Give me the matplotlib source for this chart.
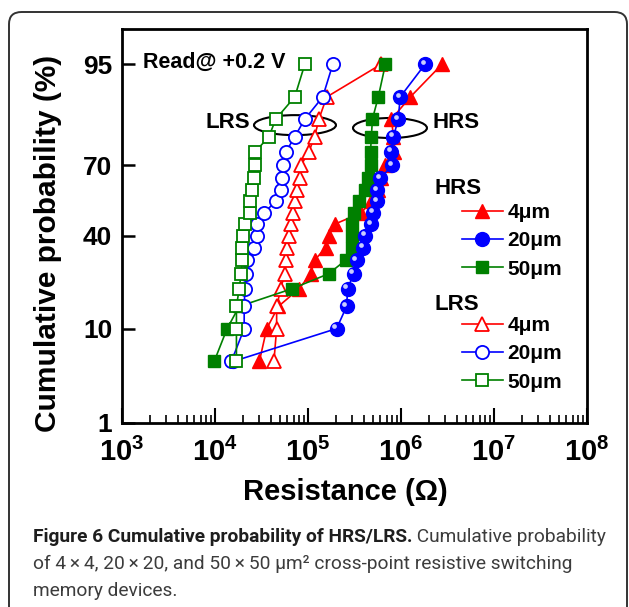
import numpy as np
import matplotlib
matplotlib.use('Agg')
import matplotlib.pyplot as plt
from matplotlib import font_manager
from matplotlib.patches import Ellipse, FancyBboxPatch
from matplotlib.lines import Line2D
from matplotlib.ticker import LogLocator, NullLocator, NullFormatter
from matplotlib.transforms import ScaledTranslation
from statistics import NormalDist

# Data: resistance (ohm) at each cumulative probability (%)
prob = [5, 10, 15, 20, 25, 30, 35, 40, 45, 50, 55, 60, 65, 70, 75, 80, 85, 90, 95]

hrs_4um = [3.0e4, 3.6e4, 4.8e4, 8.0e4, 1.07e5, 1.18e5, 1.55e5, 1.67e5, 1.94e5, 3.76e5,
           4.7e5, 5.7e5, 6.15e5, 6.8e5, 8.5e5, 8.3e5, 7.9e5, 1.26e6, 2.77e6]
hrs_20um = [1.57e4, 2.03e5, 2.6e5, 2.67e5, 3.1e5, 3.33e5, 3.95e5, 4.15e5, 4.8e5, 5.05e5,
            5.57e5, 5.57e5, 6.0e5, 8.1e5, 7.9e5, 8.3e5, 9.35e5, 9.8e5, 1.82e6]
hrs_50um = [9.8e3, 1.35e4, 1.82e4, 6.7e4, 1.67e5, 2.54e5, 2.94e5, 2.94e5, 3.0e5, 3.1e5,
            3.55e5, 4.15e5, 4.47e5, 4.7e5, 4.7e5, 4.8e5, 4.93e5, 5.7e5, 6.8e5]
lrs_4um = [4.3e4, 4.6e4, 4.6e4, 5.1e4, 5.6e4, 5.8e4, 5.95e4, 6.2e4, 6.55e4, 6.9e4,
           7.2e4, 7.6e4, 8.2e4, 8.4e4, 1.02e5, 1.18e5, 1.31e5, 1.59e5, 6.15e5]
lrs_20um = [1.5e4, 2.06e4, 2.06e4, 2.1e4, 2.16e4, 2.2e4, 2.63e4, 2.83e4, 2.83e4, 3.37e4,
            4.5e4, 5.1e4, 5.25e4, 5.4e4, 5.8e4, 7.2e4, 9.25e4, 1.44e5, 1.85e5]
lrs_50um = [1.7e4, 1.7e4, 1.7e4, 1.82e4, 1.91e4, 1.96e4, 1.96e4, 2.0e4, 2.1e4, 2.39e4,
            2.39e4, 2.5e4, 2.63e4, 2.7e4, 2.7e4, 3.8e4, 4.5e4, 7.2e4, 9.25e4]

sizes = ['4\u03bcm', '20\u03bcm', '50\u03bcm']
xticks = [1e3, 1e4, 1e5, 1e6, 1e7, 1e8]
xtick_labels = [r'$\mathbf{10^{%d}}$' % e for e in range(3, 9)]
yticks = [1, 10, 40, 70, 95]
ytick_labels = ['1', '10', '40', '70', '95']

plt.rcParams['font.family'] = 'Liberation Sans'
plt.rcParams['font.weight'] = 'bold'
plt.rcParams['mathtext.fontset'] = 'custom'
plt.rcParams['mathtext.rm'] = 'Liberation Sans:bold'
plt.rcParams['mathtext.bf'] = 'Liberation Sans:bold'

# normal probability scale
_nd = NormalDist()
_ppf = np.vectorize(_nd.inv_cdf, otypes=[float])
_cdf = np.vectorize(_nd.cdf, otypes=[float])

def prob_fwd(p):
    p = np.clip(np.asarray(p, dtype=float) / 100.0, 1e-9, 1 - 1e-9)
    return _ppf(p)

def prob_inv(z):
    return _cdf(np.asarray(z, dtype=float)) * 100.0

fig = plt.figure(figsize=(6.29, 6.07), dpi=100)
W, H = 629.0, 607.0
ax = fig.add_axes([122 / W, 1 - 423 / H, 465 / W, 394 / H])

RED, BLUE, GREEN = '#ff0000', '#0000ff', '#008000'
lw = 1.2
ms_tri, ms_cir, ms_sq = 10.5, 10, 8.5

ax.plot(hrs_4um, prob, color=RED, lw=lw, marker='^', ms=ms_tri, mec=RED, mfc=RED)
ax.plot(lrs_4um, prob, color=RED, lw=lw, marker='^', ms=ms_tri, mec=RED, mfc='white', mew=1.3)
ax.plot(hrs_50um, prob, color=GREEN, lw=lw, marker='s', ms=ms_sq, mec=GREEN, mfc=GREEN)
ax.plot(hrs_20um, prob, color=BLUE, lw=lw, marker='o', ms=ms_cir, mec=BLUE, mfc=BLUE)
shine = ax.transData + ScaledTranslation(-1.7 / 72, 1.7 / 72, fig.dpi_scale_trans)
ax.plot(hrs_20um, prob, ls='none', marker='o', ms=3.4, mec='none', mfc='#c9cdff', transform=shine)
ax.plot(lrs_20um, prob, color=BLUE, lw=lw, marker='o', ms=9.5, mec=BLUE, mfc='white', mew=1.3)
ax.plot(lrs_50um, prob, color=GREEN, lw=lw, marker='s', ms=ms_sq, mec=GREEN, mfc='white', mew=1.3)

ax.set_xscale('log')
ax.set_yscale('function', functions=(prob_fwd, prob_inv))
ax.set_xlim(1e3, 1e8)
ax.set_ylim(1, 97.9)

ax.set_xticks(xticks)
ax.set_xticklabels(xtick_labels)
ax.xaxis.set_minor_locator(LogLocator(base=10, subs=np.arange(2, 10), numticks=20))
ax.xaxis.set_minor_formatter(NullFormatter())
ax.set_yticks(yticks)
ax.set_yticklabels(ytick_labels)
ax.yaxis.set_minor_locator(NullLocator())

ax.tick_params(which='both', direction='in', top=False, right=False)
ax.tick_params(axis='x', which='major', length=11, width=1.5, pad=11, labelsize=21)
ax.tick_params(axis='x', which='minor', length=6, width=1.2)
ax.tick_params(axis='y', which='major', length=9, width=1.8, pad=7, labelsize=19)
for s in ax.spines.values():
    s.set_linewidth(2)

fig.text(48 / W, 1 - 243 / H, 'Cumulative probability (%)', rotation=90,
         ha='center', va='center', fontsize=21.5, weight='bold')
fig.text(345 / W, 1 - 492 / H, 'Resistance (\u03a9)', ha='center', va='center',
         fontsize=21, weight='bold')

# annotations
ax.text(0.045, 0.916, 'Read@ +0.2 V', transform=ax.transAxes, fontsize=15.5,
        ha='left', va='center')
ax.text(0.1785, 0.763, 'LRS', transform=ax.transAxes, fontsize=16, ha='left', va='center')
ax.text(0.6667, 0.763, 'HRS', transform=ax.transAxes, fontsize=16, ha='left', va='center')
ax.add_patch(Ellipse((0.372, 0.756), 0.1763, 0.0508, transform=ax.transAxes,
                     fill=False, ec='black', lw=1.5))
ax.add_patch(Ellipse((0.5763, 0.7487), 0.159, 0.0508, transform=ax.transAxes,
                     fill=False, ec='black', lw=1.5))

# legends
hrs_handles = [Line2D([], [], color=RED, lw=lw, marker='^', ms=ms_tri, mfc=RED, mec=RED),
               Line2D([], [], color=BLUE, lw=lw, marker='o', ms=ms_cir, mfc=BLUE, mec=BLUE),
               Line2D([], [], color=GREEN, lw=lw, marker='s', ms=ms_sq, mfc=GREEN, mec=GREEN)]
lrs_handles = [Line2D([], [], color=RED, lw=lw, marker='^', ms=ms_tri, mfc='white', mec=RED, mew=1.3),
               Line2D([], [], color=BLUE, lw=lw, marker='o', ms=9.5, mfc='white', mec=BLUE, mew=1.3),
               Line2D([], [], color=GREEN, lw=lw, marker='s', ms=ms_sq, mfc='white', mec=GREEN, mew=1.3)]
leg_kw = dict(loc='upper left', frameon=False, fontsize=15, handlelength=1.95,
              handletextpad=0.25, labelspacing=0.45, borderpad=0, borderaxespad=0)
leg1 = ax.legend(hrs_handles, sizes, bbox_to_anchor=(0.731, (423 - 203) / 394), **leg_kw)
ax.add_artist(leg1)
ax.legend(lrs_handles, sizes, bbox_to_anchor=(0.731, (423 - 316) / 394), **leg_kw)
ax.text(0.673, (423 - 188) / 394, 'HRS', transform=ax.transAxes, fontsize=16,
        ha='left', va='center')
ax.text(0.673, (423 - 305) / 394, 'LRS', transform=ax.transAxes, fontsize=16,
        ha='left', va='center')

# rounded frame around the figure panel
fig.add_artist(FancyBboxPatch((9 / W, -0.05), 618 / W, 1.05 - 12 / H,
                              boxstyle='round,pad=0,rounding_size=0.02',
                              transform=fig.transFigure, fill=False,
                              ec='#333333', lw=1.4))

# caption
names = {f.name for f in font_manager.fontManager.ttflist}
cap_family = 'Liberation Sans Narrow' if 'Liberation Sans Narrow' in names else 'Roboto'
bold_part = 'Figure 6 Cumulative probability of HRS/LRS.'
rest1 = ' Cumulative probability'
line2 = 'of 4\u2009\u00d7\u20094, 20\u2009\u00d7\u200920, and 50\u2009\u00d7\u200950 \u03bcm\u00b2 cross-point resistive switching'
line3 = 'memory devices.'

renderer = fig.canvas.get_renderer()
x0 = 33 / W
fs = 12.0
tb = fig.text(x0, 0, bold_part, fontsize=fs, weight='bold', family=cap_family)
tr = fig.text(x0, 0, rest1, fontsize=fs, weight='normal', family=cap_family)
w = tb.get_window_extent(renderer).width + tr.get_window_extent(renderer).width
tb.remove()
tr.remove()
fs = fs * (607 - 33) / w

y1 = 1 - 542 / H
tb = fig.text(x0, y1, bold_part, fontsize=fs, weight='bold', family=cap_family,
              color='#1e1e1e', va='baseline')
bw = tb.get_window_extent(renderer).width
fig.text(x0 + bw / W, y1, rest1, fontsize=fs, weight='normal', family=cap_family,
         color='#3c3c3c', va='baseline')
fig.text(x0, 1 - 569 / H, line2, fontsize=fs, weight='normal', family=cap_family,
         color='#3c3c3c', va='baseline')
fig.text(x0, 1 - 596 / H, line3, fontsize=fs, weight='normal', family=cap_family,
         color='#3c3c3c', va='baseline')

fig.savefig('out.png', dpi=100)
